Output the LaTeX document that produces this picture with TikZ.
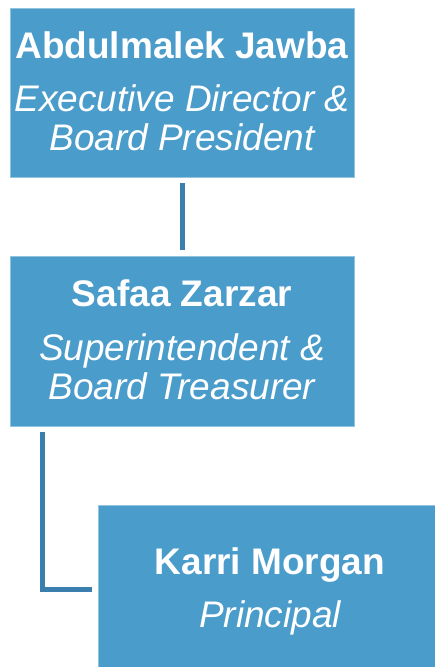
\documentclass[tikz,border=0pt]{standalone}
\usepackage{fontspec}
\setmainfont{Liberation Sans}
\definecolor{boxblue}{HTML}{4A9CCB}
\definecolor{lineblue}{HTML}{3A7FAD}
\begin{document}
\begin{tikzpicture}[x=1pt,y=-1pt,
  orgbox/.style={rectangle, fill=boxblue, draw=boxblue!60!white, line width=0.6pt,
    minimum width=344pt, minimum height=169pt, inner sep=0pt},
  nametext/.style={anchor=base, text=white, inner sep=0pt, font=\fontsize{37}{44}\selectfont\bfseries},
  roletext/.style={anchor=base, text=white, inner sep=0pt, font=\fontsize{37}{44}\selectfont\itshape},
  link/.style={draw=lineblue, line width=5pt, line cap=butt, line join=miter, shorten <=6pt, shorten >=6pt}]
\useasboundingbox (0,0) rectangle (434,667);
\node[orgbox] (b1) at (182,92.5) {};
\node[orgbox, minimum height=170pt] (b2) at (182,341) {};
\node[orgbox] (b3) at (270,589.5) {};
\node[nametext] (n1) at (182,58) {Abdulmalek Jawba};
\node[roletext] (r1a) at (182,111) {Executive Director \&};
\node[roletext] (r1b) at (182,150) {Board President};
\node[nametext] (n2) at (182,306) {Safaa Zarzar};
\node[roletext] (r2a) at (182,360) {Superintendent \&};
\node[roletext] (r2b) at (182,399) {Board Treasurer};
\node[nametext] (n3) at (270,574) {Karri Morgan};
\node[roletext] (r3) at (270,627) {Principal};
\draw[link] (b1.south) -- (b2.north);
\draw[link] ([xshift=32.5pt]b2.south west) |- (b3.west);
\end{tikzpicture}
\end{document}
